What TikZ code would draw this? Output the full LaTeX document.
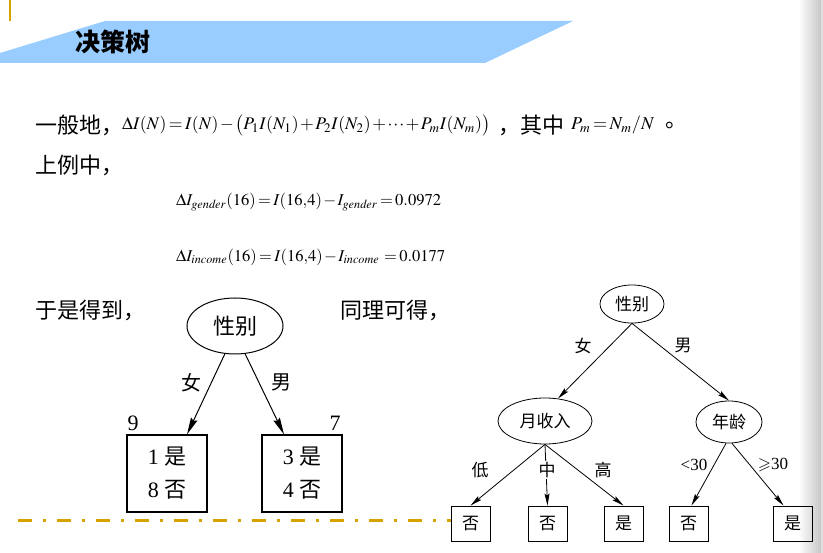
\documentclass[tikz,border=0pt]{standalone}
\usepackage{amssymb}
\usepackage{mathptmx}
\usepackage{fontspec}
\setmainfont{Liberation Serif}
\newfontfamily\cjk{Noto Sans CJK SC}
\usetikzlibrary{arrows.meta,shapes.geometric,calc}
\definecolor{banner}{HTML}{99CCFF}
\definecolor{gold}{RGB}{214,162,0}
\newcommand\zh[1]{{\cjk #1}}
\newcommand\tightmath{\medmuskip=1.5mu\thickmuskip=2.5mu\thinmuskip=1mu}
\begin{document}
\begin{tikzpicture}[x=1pt,y=-1pt,
  hd/.style={anchor=west,inner sep=0pt,font=\fontsize{22}{26}\selectfont\cjk},
  fm/.style={anchor=west,inner sep=0pt},
  lell/.style={ellipse,draw,line width=1pt,inner sep=0pt,minimum width=96pt,minimum height=56pt,font=\fontsize{22}{26}\selectfont\cjk},
  lbox/.style={draw,line width=1.1pt,minimum width=80pt,minimum height=77pt,inner sep=0pt,align=center,font=\fontsize{22}{33}\selectfont},
  larr/.style={line width=1pt,-{Stealth[length=17pt,width=7pt,inset=2pt]}},
  llab/.style={inner sep=0pt,font=\fontsize{20}{24}\selectfont\cjk},
  lnum/.style={inner sep=0pt,font=\fontsize{22}{26}\selectfont},
  rell/.style={ellipse,draw,line width=0.8pt,inner sep=0pt,font=\fontsize{17}{20}\selectfont\cjk},
  rbox/.style={draw,line width=0.9pt,minimum width=39pt,minimum height=35pt,inner sep=0pt,font=\fontsize{17}{20}\selectfont\cjk},
  rarr/.style={line width=0.8pt,-{Stealth[length=12pt,width=5pt,inset=2pt]}},
  rlab/.style={inner sep=0pt,font=\fontsize{17}{20}\selectfont\cjk},
  rnum/.style={inner sep=0pt,font=\fontsize{17}{20}\selectfont},
]
\useasboundingbox (0,0) rectangle (823,553);
\fill[white] (0,0) rectangle (823,553);
\shade[left color=white,right color=black!22] (798,0) rectangle (821,553);
\fill[black!12] (821,0) rectangle (823,553);

% top decorations
\draw[gold,line width=2pt] (10,0) -- (10,21);
\fill[banner] (0,53) -- (105,21) -- (573,21) -- (485,63) -- (0,63) -- cycle;
\node[anchor=west,inner sep=0pt,font=\fontsize{25}{28}\selectfont\cjk\bfseries] (title) at (75,42) {决策树};

% text lines
\node[hd] (t1) at (35,125) {一般地，};
\node[fm] (f1) at (122,125) {\resizebox{368pt}{!}{$\tightmath\Delta I(N)=I(N)-\bigl(P_1I(N_1)+P_2I(N_2)+\cdots+P_mI(N_m)\bigr)$}};
\node[hd] (t2) at (498,125) {，其中};
\node[fm] (f2) at (571,125) {\resizebox{83pt}{!}{$\tightmath P_m=N_m/N$}};
\node[hd] (t3) at (665,125) {。};
\node[hd] (t4) at (35,165) {上例中，};
\node[fm] (f3) at (176,202) {\resizebox{265pt}{!}{$\tightmath\Delta I_{\mathit{gender}}(16)=I(16{,}4)-I_{\mathit{gender}}=0.0972$}};
\node[fm] (f4) at (176,257) {\resizebox{269pt}{!}{$\tightmath\Delta I_{\mathit{income}}(16)=I(16{,}4)-I_{\mathit{income}}\;=0.0177$}};
\node[hd] (t5) at (35,310) {于是得到，};
\node[hd] (t6) at (340,310) {同理可得，};

% left tree
\node[lell] (lroot) at (235,326) {性别};
\node[lbox] (lb1) at (167,473.5) {1 \zh{是}\\8 \zh{否}};
\node[lbox] (lb2) at (302,473.5) {3 \zh{是}\\4 \zh{否}};
\draw[larr] (lroot.250) -- ([xshift=20pt]lb1.north);
\draw[larr] (lroot.290) -- ([xshift=-18pt]lb2.north);
\node[llab] (lf) at (191,383) {女};
\node[llab] (lm) at (281,382) {男};
\node[lnum] (n9) at (133,423) {9};
\node[lnum] (n7) at (335,423) {7};

% dash-dot line
\coordinate (ds) at (18,521);
\coordinate (de) at (452,521);
\draw[gold,line width=3pt,dash pattern=on 14pt off 11pt on 3pt off 11pt] (ds) -- (de);

% right tree
\node[rell,minimum width=64pt,minimum height=38pt] (rroot) at (632,304) {性别};
\node[rell,minimum width=94pt,minimum height=46pt] (inc) at (545,421) {月收入};
\node[rell,minimum width=66pt,minimum height=42pt] (age) at (729,422) {年龄};
\node[rbox] (r1) at (470.5,523.5) {否};
\node[rbox] (r2) at (547.5,523.5) {否};
\node[rbox] (r3) at (623.5,523.5) {是};
\node[rbox] (r4) at (688.5,523.5) {否};
\node[rbox] (r5) at (792.5,523.5) {是};
\draw[rarr] (rroot.south) -- (inc.60);
\draw[rarr] (rroot.south) -- (age.north);
\draw[rarr] (inc.south) -- (r1.north);
\draw[rarr] (inc.south) -- (r2.north);
\draw[rarr] (inc.south) -- (r3.north);
\draw[rarr] ([xshift=-3pt]age.south) -- ([xshift=3pt]r4.north);
\draw[rarr] ([xshift=3pt]age.south) -- ([xshift=-9pt]r5.north);
\node[rlab] (rf) at (583,346) {女};
\node[rlab] (rm) at (683,345) {男};
\node[rlab] (rlo) at (480,470) {低};
\node[rlab,fill=white,inner sep=1.5pt] (rmid) at (547,470) {中};
\node[rlab] (rhi) at (603,470) {高};
\node[rnum] (rlt) at (694,465) {<30};
\node[rnum] (rge) at (773,465) {$\geqslant$30};
\end{tikzpicture}
\end{document}
